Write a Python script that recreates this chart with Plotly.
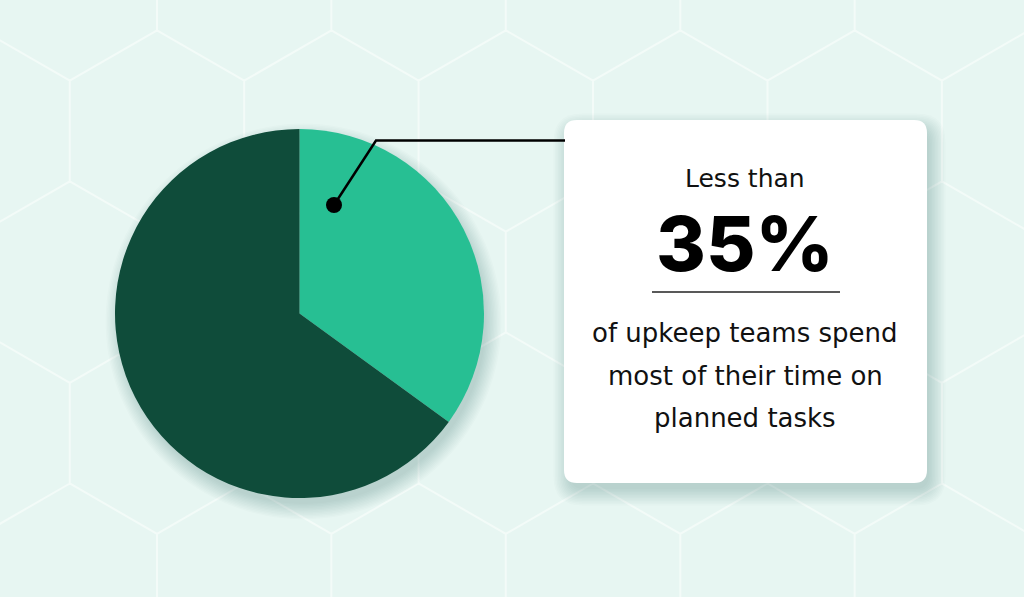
import math
import plotly.graph_objects as go

# ---- data ----
labels = ["Planned tasks", "Other work"]
values = [35, 65]
colors = ["#27bf93", "#0f4c3a"]
headline_top = "Less than"
headline_value = "35%"
body_lines = ["of upkeep teams spend", "most of their time on", "planned tasks"]

W, H = 1024, 597
BG = "#e7f6f2"
HEX_LINE = "#f3fbf8"

shapes = []

# ---- hexagon background pattern ----
s = 100.7
hw = s * math.sqrt(3) / 2
path = ""
for j in range(-1, 5):
    cy = 131 + 1.5 * s * j
    off = hw if j % 2 else 0
    for k in range(-1, 7):
        cx = 157 + 2 * hw * k + off
        pts = []
        for a in range(6):
            ang = math.radians(90 + 60 * a)
            pts.append((cx + s * math.cos(ang), cy - s * math.sin(ang)))
        path += "M" + " L".join(f"{x:.1f},{y:.1f}" for x, y in pts) + " Z "
shapes.append(dict(type="path", path=path, xref="x", yref="y",
                   line=dict(color=HEX_LINE, width=2), layer="below"))

# ---- pie shadow ----
PCX, PCY, PR = 299.5, 313.5, 184.5
for i in range(12):
    r = PR - 2 + i * 1.4
    shapes.append(dict(type="circle", xref="x", yref="y", layer="below",
                       x0=PCX + 4 - r, x1=PCX + 4 + r, y0=PCY + 8 - r, y1=PCY + 8 + r,
                       fillcolor="rgba(30,70,60,0.017)", line=dict(width=0)))

# ---- callout box with shadow ----
def rrect(x0, y0, x1, y1, rad):
    return (f"M{x0+rad},{y0} L{x1-rad},{y0} Q{x1},{y0} {x1},{y0+rad} "
            f"L{x1},{y1-rad} Q{x1},{y1} {x1-rad},{y1} L{x0+rad},{y1} "
            f"Q{x0},{y1} {x0},{y1-rad} L{x0},{y0+rad} Q{x0},{y0} {x0+rad},{y0} Z")

BX0, BY0, BX1, BY1 = 564, 120, 927, 483
for i in range(12):
    g = -2 + i * 1.5
    shapes.append(dict(type="path", xref="x", yref="y", layer="below",
                       path=rrect(BX0 + 4 - g, BY0 + 8 - g, BX1 + 4 + g, BY1 + 8 + g, 14 + max(g, 0)),
                       fillcolor="rgba(30,70,60,0.017)", line=dict(width=0)))
shapes.append(dict(type="path", xref="x", yref="y", layer="below",
                   path=rrect(BX0, BY0, BX1, BY1, 13),
                   fillcolor="#ffffff", line=dict(width=0)))

# ---- divider in box ----
shapes.append(dict(type="line", xref="x", yref="y", x0=652, x1=840, y0=292, y1=292,
                   line=dict(color="#222222", width=1.5), layer="above"))

# ---- leader line and dot ----
shapes.append(dict(type="path", xref="x", yref="y", layer="above",
                   path="M565,140.5 L376,140.5 L334,205",
                   line=dict(color="#000000", width=2.5)))
shapes.append(dict(type="circle", xref="x", yref="y", layer="above",
                   x0=334 - 8, x1=334 + 8, y0=205 - 8, y1=205 + 8,
                   fillcolor="#000000", line=dict(width=0)))

fig = go.Figure()
fig.add_trace(go.Scatter(x=[None], y=[None], showlegend=False, hoverinfo="skip"))
fig.add_trace(go.Pie(
    labels=labels, values=values, sort=False, direction="clockwise", rotation=0,
    marker=dict(colors=colors, line=dict(width=0)),
    textinfo="none", hoverinfo="label+percent", showlegend=False,
    domain=dict(x=[(PCX - PR) / W, (PCX + PR) / W],
                y=[(H - PCY - PR) / H, (H - PCY + PR) / H]),
))

BODY_FONT = "DejaVu Sans"
annotations = [
    dict(x=745, y=178, text=headline_top, font=dict(family=BODY_FONT, size=25, color="#111111")),
    dict(x=745, y=243, text=headline_value,
         font=dict(family="Inter", size=76, color="#000000", weight=800)),
]
for i, line in enumerate(body_lines):
    annotations.append(dict(x=745, y=333 + 42.5 * i, text=line,
                            font=dict(family=BODY_FONT, size=26, color="#111111")))
for a in annotations:
    a.update(xref="x", yref="y", showarrow=False, xanchor="center", yanchor="middle")

fig.update_layout(
    width=W, height=H, margin=dict(l=0, r=0, t=0, b=0),
    paper_bgcolor=BG, plot_bgcolor=BG,
    xaxis=dict(range=[0, W], visible=False, fixedrange=True),
    yaxis=dict(range=[H, 0], visible=False, fixedrange=True),
    shapes=shapes, annotations=annotations,
)
fig.write_html("out.html", config={"displayModeBar": False},
               post_script="document.body.style.margin='0';document.body.style.overflow='hidden';")
